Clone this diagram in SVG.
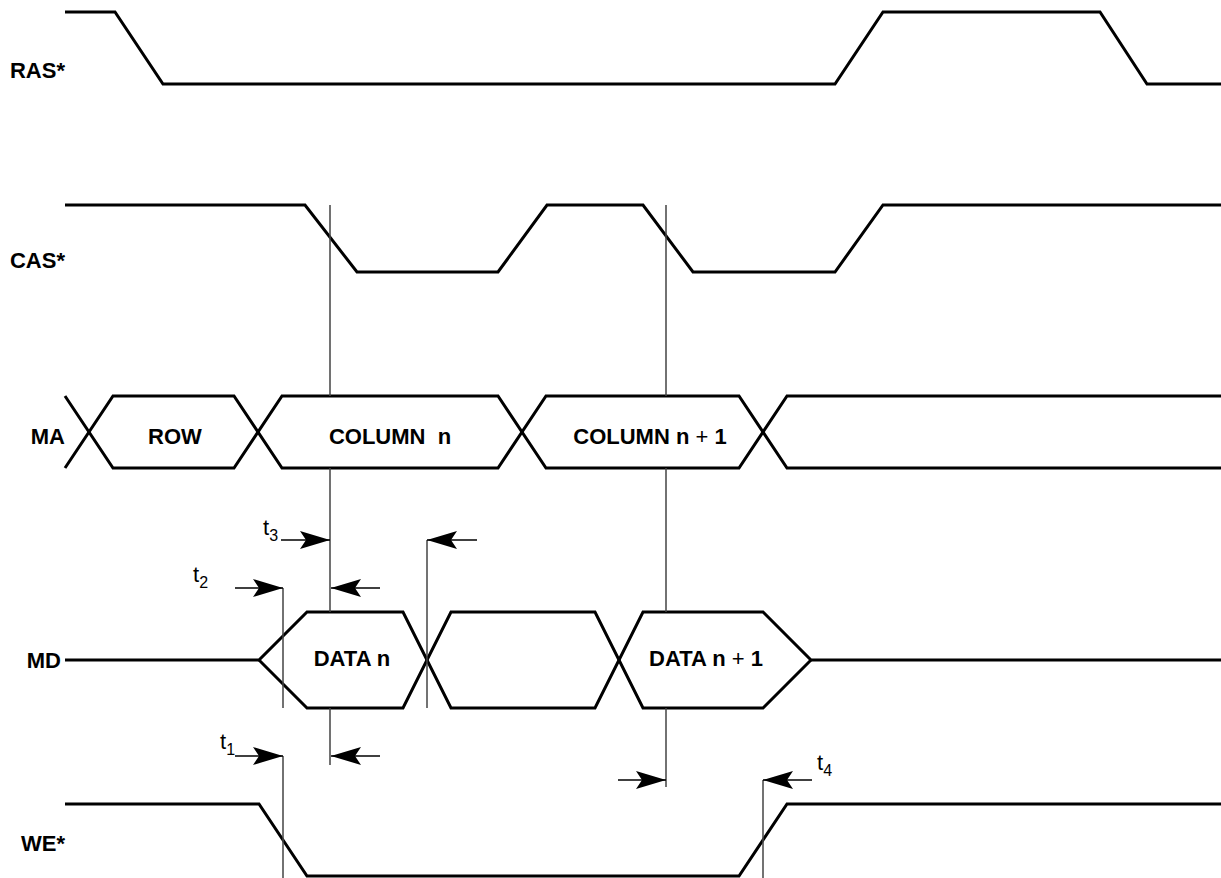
<svg xmlns="http://www.w3.org/2000/svg" width="1221" height="878" viewBox="0 0 1221 878">
<defs>
<style>
.sig{fill:none;stroke:#000;stroke-width:3;stroke-linejoin:miter}
.lbl{font-family:"Liberation Sans",Arial,Helvetica,sans-serif;font-weight:bold;font-size:22px;fill:#000}
.bus{font-family:"Liberation Sans",Arial,Helvetica,sans-serif;font-weight:bold;font-size:22px;fill:#000;text-anchor:middle}
.pl{font-weight:normal}
.ref{fill:none;stroke:#444;stroke-width:1.5}
.arr{fill:none;stroke:#000;stroke-width:1.6}
.t{font-family:"Liberation Sans",Arial,Helvetica,sans-serif;font-size:22px;fill:#000}
.sub{font-size:16px}
</style>
<marker id="ah" viewBox="0 0 30 18" refX="30" refY="9" markerWidth="30" markerHeight="18" markerUnits="userSpaceOnUse" orient="auto">
<path d="M0,0 L30,9 L0,18 L6,9 Z" fill="#000"/>
</marker>
</defs>
<rect width="1221" height="878" fill="#fff"/>

<g id="ras">
<text class="lbl" x="65" y="78" text-anchor="end">RAS*</text>
<polyline class="sig" points="65,12 115,12 163,84 835,84 883,12 1100,12 1147,84 1221,84"/>
</g>

<g id="cas">
<text class="lbl" x="65" y="268" text-anchor="end">CAS*</text>
<polyline class="sig" points="65,205 305,205 357,272 498,272 547,205 643,205 693,272 835,272 883,205 1221,205"/>
</g>

<g id="ma">
<text class="lbl" x="65" y="444" text-anchor="end">MA</text>
<polyline class="sig" points="65,396 113,468 234,468 282,396 498,396 546,468 739,468 787,396 1221,396"/>
<polyline class="sig" points="65,468 113,396 234,396 282,468 498,468 546,396 739,396 787,468 1221,468"/>
<text class="bus" x="175" y="444">ROW</text>
<text class="bus" x="390" y="444" xml:space="preserve">COLUMN  n</text>
<text class="bus" x="650" y="444">COLUMN n <tspan class="pl">+</tspan> 1</text>
</g>

<g id="md">
<text class="lbl" x="61" y="668" text-anchor="end">MD</text>
<polyline class="sig" points="65,660 259,660 307,612 403,612 451,708 595,708 643,612 763,612 811,660 1221,660"/>
<polyline class="sig" points="259,660 307,708 403,708 451,612 595,612 643,708 763,708 811,660"/>
<text class="bus" x="352" y="666">DATA n</text>
<text class="bus" x="706" y="666">DATA n <tspan class="pl">+</tspan> 1</text>
</g>

<g id="we">
<text class="lbl" x="65" y="851" text-anchor="end">WE*</text>
<polyline class="sig" points="65,804 259,804 307,876 739,876 787,804 1221,804"/>
</g>

<g id="connectors">
<path class="ref" d="M330,205V396M330,468V612M330,708V765"/>
<path class="ref" d="M666,205V396M666,468V612M666,708V787"/>
<path class="ref" d="M283,588V708M283,756V878"/>
<path class="ref" d="M427,540V708"/>
<path class="ref" d="M763,780V878"/>
<path class="arr" d="M281,540H330" marker-end="url(#ah)"/>
<path class="arr" d="M477,540H427" marker-end="url(#ah)"/>
<path class="arr" d="M235,588H283" marker-end="url(#ah)"/>
<path class="arr" d="M380,588H331" marker-end="url(#ah)"/>
<path class="arr" d="M235,756H283" marker-end="url(#ah)"/>
<path class="arr" d="M380,756H331" marker-end="url(#ah)"/>
<path class="arr" d="M618,780H666" marker-end="url(#ah)"/>
<path class="arr" d="M812,780H763" marker-end="url(#ah)"/>
</g>

<g id="timing-labels">
<text class="t" x="263" y="535">t<tspan class="sub" dy="6">3</tspan></text>
<text class="t" x="193" y="582">t<tspan class="sub" dy="6">2</tspan></text>
<text class="t" x="220" y="749">t<tspan class="sub" dy="6">1</tspan></text>
<text class="t" x="817" y="770">t<tspan class="sub" dy="6">4</tspan></text>
</g>
</svg>
